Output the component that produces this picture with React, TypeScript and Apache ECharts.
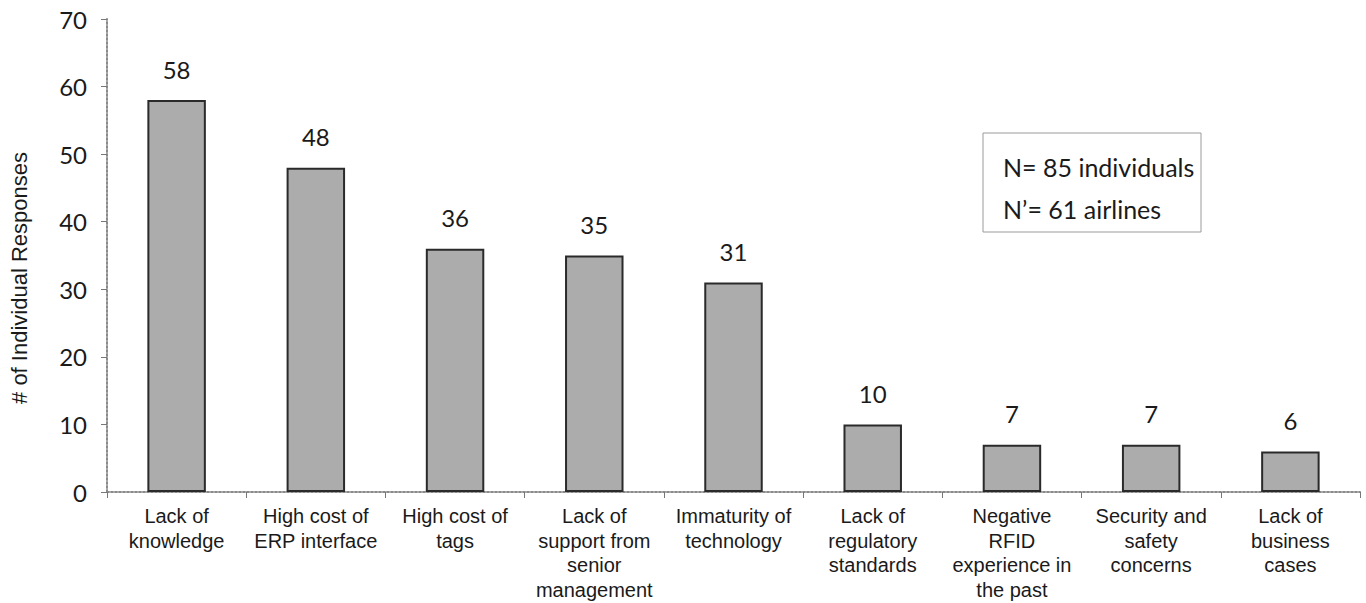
import React, { useEffect, useRef } from "react";
import * as echarts from "echarts";

const categories = [
  "Lack of\nknowledge",
  "High cost of\nERP interface",
  "High cost of\ntags",
  "Lack of\nsupport from\nsenior\nmanagement",
  "Immaturity of\ntechnology",
  "Lack of\nregulatory\nstandards",
  "Negative\nRFID\nexperience in\nthe past",
  "Security and\nsafety\nconcerns",
  "Lack of\nbusiness\ncases",
];
const responses = [58, 48, 36, 35, 31, 10, 7, 7, 6];
const yTicks = [0, 10, 20, 30, 40, 50, 60, 70];
const yTitle = "# of Individual Responses";
const noteLines = ["N= 85 individuals", "N\u2019= 61 airlines"];

const numFont = "Lato, 'Open Sans', sans-serif";
const labelFont = "'Liberation Sans', Arial, sans-serif";

export default function App() {
  const ref = useRef<HTMLDivElement>(null);
  useEffect(() => {
    if (!ref.current) return;
    const chart = echarts.init(ref.current, null, { renderer: "svg" });
    chart.setOption({
      animation: false,
      backgroundColor: "#ffffff",
      grid: { left: 107, right: 6, top: 19, bottom: 111, containLabel: false },
      xAxis: {
        type: "category",
        data: categories,
        axisLine: { lineStyle: { color: "#8a8a8a", width: 2, type: "dotted" } },
        axisTick: { show: true, alignWithLabel: false, length: 6, lineStyle: { color: "#777" } },
        axisLabel: {
          color: "#1a1a1a",
          fontFamily: labelFont,
          fontSize: 20,
          lineHeight: 24.5,
          margin: 12,
          interval: 0,
        },
      },
      yAxis: {
        type: "value",
        min: yTicks[0],
        max: yTicks[yTicks.length - 1],
        interval: 10,
        splitLine: { show: false },
        axisLine: { show: true, lineStyle: { color: "#8a8a8a", width: 2, type: "dotted" } },
        axisTick: { show: true, length: 6, lineStyle: { color: "#777" } },
        axisLabel: { color: "#1a1a1a", fontFamily: numFont, fontSize: 24, margin: 20 },
      },
      series: [
        {
          type: "bar",
          data: responses,
          barWidth: "42%",
          itemStyle: { color: "#acacac", borderColor: "#2a2a2a", borderWidth: 2 },
          label: {
            show: true,
            position: "top",
            distance: 19,
            color: "#1a1a1a",
            fontFamily: numFont,
            fontSize: 24,
          },
        },
      ],
      graphic: [
        {
          type: "text",
          x: 19,
          y: 278,
          rotation: Math.PI / 2,
          style: {
            text: yTitle,
            font: `22px ${labelFont}`,
            fill: "#1a1a1a",
            textAlign: "center",
            textVerticalAlign: "middle",
          },
        },
        {
          type: "rect",
          shape: { x: 983, y: 133, width: 218, height: 99 },
          style: { fill: "#ffffff", stroke: "#9a9a9a", lineWidth: 1 },
        },
        {
          type: "text",
          x: 1003,
          y: 146,
          style: {
            text: noteLines.join("\n"),
            font: `25px ${numFont}`,
            fill: "#1a1a1a",
            lineHeight: 42,
          },
        },
      ],
    });
    return () => chart.dispose();
  }, []);
  return (
    <div
      ref={ref}
      style={{ position: "absolute", left: 0, top: 0, width: 1366, height: 603 }}
    />
  );
}
